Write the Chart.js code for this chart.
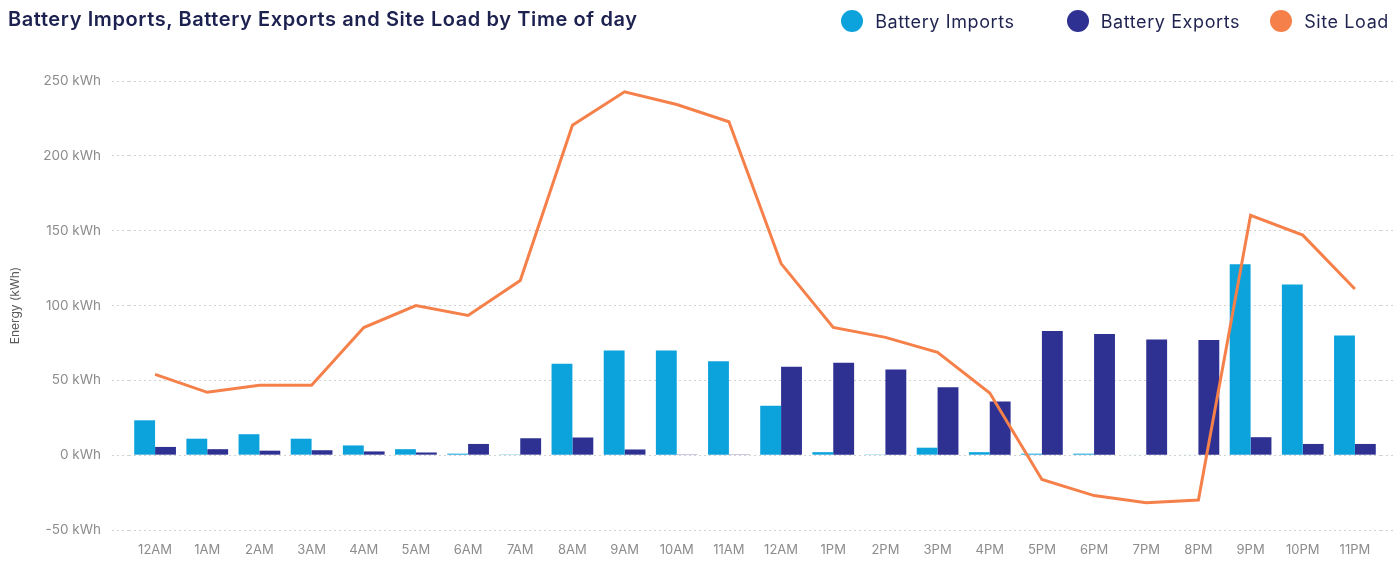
<!DOCTYPE html>
<html>
<head>
<meta charset="utf-8">
<script src="https://cdn.jsdelivr.net/npm/chart.js@4/dist/chart.umd.min.js"></script>
<style>
  html, body { margin: 0; padding: 0; background: #ffffff; }
  #wrap { position: relative; width: 1393px; height: 561px; overflow: hidden; }
  #title {
    position: absolute; left: 8px; top: 7px;
    font-family: Inter, "Noto Sans", sans-serif; font-weight: 600; font-size: 20px;
    letter-spacing: 0.6px; color: #1c2150; white-space: nowrap;
  }
  #legend {
    position: absolute; right: 4px; top: 10px; display: flex; align-items: center;
    font-family: Inter, "Noto Sans", sans-serif; font-size: 18px; letter-spacing: 0.6px;
    color: #1f2350; white-space: nowrap;
  }
  .item { display: flex; align-items: center; }
  .dot { width: 22px; height: 22px; border-radius: 50%; margin-right: 12px; }
  canvas { position: absolute; left: 0; top: 0; }
</style>
</head>
<body>
<div id="wrap">
  <canvas id="chart" width="1393" height="561"></canvas>
  <div id="title">Battery Imports, Battery Exports and Site Load by Time of day</div>
  <div id="legend"></div>
</div>
<script>
// Hour-of-day categories (the noon slot is labelled 12AM on the source dashboard)
const hours = ['12AM','1AM','2AM','3AM','4AM','5AM','6AM','7AM','8AM','9AM','10AM','11AM',
               '12AM','1PM','2PM','3PM','4PM','5PM','6PM','7PM','8PM','9PM','10PM','11PM'];

// Energy per hour, kWh
const batteryImports = [23.3, 11, 14, 11, 6.5, 4, 1, 0.5, 61, 70, 70, 62.7,
                        33, 2, 0.5, 5, 2, 1, 1, 0.3, 0.3, 127.5, 114, 80];
const batteryExports = [5.5, 4, 3, 3.3, 2.5, 1.8, 7.5, 11.3, 11.8, 3.8, 0.5, 0.5,
                        59, 61.8, 57.3, 45.3, 35.8, 83, 81, 77.3, 77, 12, 7.5, 7.5];
const siteLoad = [54, 42, 46.7, 46.7, 85.3, 100, 93.3, 116.7, 220.5, 242.8, 234.3, 222.8,
                  128, 85.3, 78.7, 68.7, 41.5, -16.2, -27, -31.8, -30, 160.3, 147, 111];

// Value axis
const yMin = -50, yMax = 250, yStep = 50;
const yUnit = ' kWh';

const seriesNames = ['Battery Imports', 'Battery Exports', 'Site Load'];
const seriesColors = ['#0ca3dc', '#2e3192', '#f5804a'];
const legendGaps = [0, 52, 30];

const tickFont = { family: 'Inter', size: 13 };
const yTickFont = { family: 'Inter', size: 13.5 };
const tickColor = '#8c8c8c';
const gridColor = '#d2d2d2';
const gridDash = [2, 3];
const plotLeft = 129;

const chart = new Chart(document.getElementById('chart'), {
  type: 'bar',
  data: {
    labels: hours,
    datasets: [
      { label: seriesNames[0], data: batteryImports, backgroundColor: seriesColors[0],
        categoryPercentage: 0.8, barPercentage: 1.0, order: 1 },
      { label: seriesNames[1], data: batteryExports, backgroundColor: seriesColors[1],
        categoryPercentage: 0.8, barPercentage: 1.0, order: 2 },
      { type: 'line', label: seriesNames[2], data: siteLoad, borderColor: seriesColors[2],
        backgroundColor: seriesColors[2], borderWidth: 3, pointRadius: 0, tension: 0,
        fill: false, order: 0 }
    ]
  },
  options: {
    responsive: false,
    animation: false,
    devicePixelRatio: 1,
    layout: { padding: { top: 81, bottom: 3, left: 0, right: 0 } },
    plugins: {
      legend: { display: false },
      tooltip: { enabled: false }
    },
    scales: {
      x: {
        afterFit: (scale) => { scale.height = 28; },
        grid: { display: false, drawTicks: false },
        border: { display: false },
        ticks: { color: tickColor, font: tickFont, padding: 12, maxRotation: 0, autoSkip: false }
      },
      y: {
        min: yMin, max: yMax,
        afterFit: (scale) => { scale.width = plotLeft; },
        ticks: { stepSize: yStep, color: tickColor, font: yTickFont, padding: 11,
                 callback: (v) => v + yUnit },
        grid: { color: gridColor, tickColor: gridColor, tickLength: 17,
                tickBorderDash: gridDash },
        border: { display: false, dash: gridDash },
        title: { display: true, text: 'Energy (kWh)', color: '#5a5a5a',
                 font: { family: 'Inter', size: 12 }, padding: { top: 8, bottom: 4 } }
      },
      yEdge: {
        position: 'right',
        min: yMin, max: yMax,
        afterFit: (scale) => { scale.width = 12; },
        ticks: { display: false, stepSize: yStep },
        grid: { drawOnChartArea: false, color: gridColor, tickColor: gridColor,
                tickLength: 12, tickBorderDash: gridDash },
        border: { display: false }
      }
    }
  }
});

// Legend row built from the series names and colours
const legendEl = document.getElementById('legend');
seriesNames.forEach((name, i) => {
  const item = document.createElement('div');
  item.className = 'item';
  item.style.marginLeft = legendGaps[i] + 'px';
  const dot = document.createElement('span');
  dot.className = 'dot';
  dot.style.background = seriesColors[i];
  const txt = document.createElement('span');
  txt.textContent = name;
  item.appendChild(dot);
  item.appendChild(txt);
  legendEl.appendChild(item);
});
</script>
</body>
</html>
